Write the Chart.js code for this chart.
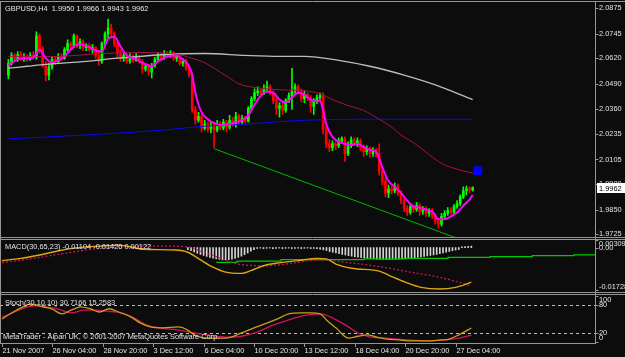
<!DOCTYPE html>
<html>
<head>
<meta charset="utf-8">
<script src="https://cdn.jsdelivr.net/npm/chart.js@4.4.0/dist/chart.umd.min.js"></script>
<style>
html, body { margin: 0; padding: 0; background: #0c0c0c; }
#wrap { position: relative; width: 625px; height: 357px; overflow: hidden; background: #0c0c0c; }
#wrap canvas { position: absolute; left: 0; top: 0; }
</style>
</head>
<body>
<div id="wrap">
  <canvas id="mainChart" width="625" height="357"></canvas>
  <canvas id="macdChart" width="625" height="357"></canvas>
  <canvas id="stochChart" width="625" height="357"></canvas>
</div>
<script>
// GBPUSD H4 candles, bar 0 = 21 Nov 2007 00:00
const opens = [2.0535,2.0595,2.0635,2.0615,2.0640,2.0620,2.0630,2.0615,2.0635,2.0625,
  2.0735,2.0670,2.0585,2.0535,2.0575,2.0615,2.0605,2.0630,2.0620,2.0665,
  2.0695,2.0685,2.0735,2.0685,2.0705,2.0675,2.0685,2.0665,2.0675,2.0635,
  2.0605,2.0695,2.0745,2.0775,2.0745,2.0695,2.0645,2.0620,2.0635,2.0605,
  2.0630,2.0610,2.0625,2.0605,2.0565,2.0580,2.0550,2.0585,2.0615,2.0635,
  2.0625,2.0645,2.0635,2.0650,2.0620,2.0630,2.0595,2.0605,2.0570,2.0535,
  2.0355,2.0305,2.0325,2.0265,2.0285,2.0260,2.0280,2.0255,2.0285,2.0265,
  2.0295,2.0270,2.0305,2.0285,2.0325,2.0295,2.0315,2.0300,2.0365,2.0415,
  2.0445,2.0455,2.0440,2.0465,2.0475,2.0445,2.0405,2.0365,2.0380,2.0355,
  2.0405,2.0430,2.0455,2.0475,2.0450,2.0415,2.0435,2.0420,2.0375,2.0405,
  2.0420,2.0430,2.0255,2.0185,2.0165,2.0185,2.0175,2.0200,2.0210,2.0135,
  2.0175,2.0205,2.0190,2.0200,2.0165,2.0145,2.0160,2.0135,2.0150,2.0135,
  2.0045,1.9995,1.9935,1.9955,1.9945,1.9970,1.9935,1.9895,1.9855,1.9835,
  1.9865,1.9850,1.9870,1.9840,1.9855,1.9830,1.9845,1.9820,1.9790,1.9775,
  1.9815,1.9830,1.9845,1.9835,1.9865,1.9880,1.9915,1.9945,1.9955,1.9950];
const highs = [2.0615,2.0650,2.0645,2.0655,2.0655,2.0645,2.0640,2.0650,2.0655,2.0755,
  2.0745,2.0680,2.0605,2.0595,2.0625,2.0630,2.0645,2.0645,2.0675,2.0715,
  2.0705,2.0745,2.0740,2.0720,2.0715,2.0695,2.0695,2.0690,2.0680,2.0655,
  2.0705,2.0755,2.0820,2.0795,2.0755,2.0705,2.0665,2.0650,2.0645,2.0645,
  2.0640,2.0645,2.0635,2.0615,2.0595,2.0590,2.0595,2.0625,2.0650,2.0645,
  2.0660,2.0655,2.0660,2.0655,2.0645,2.0635,2.0620,2.0615,2.0585,2.0545,
  2.0375,2.0345,2.0335,2.0305,2.0295,2.0300,2.0295,2.0305,2.0300,2.0310,
  2.0305,2.0330,2.0320,2.0345,2.0335,2.0330,2.0325,2.0375,2.0425,2.0465,
  2.0475,2.0465,2.0485,2.0505,2.0485,2.0455,2.0415,2.0395,2.0400,2.0415,
  2.0445,2.0570,2.0490,2.0485,2.0465,2.0455,2.0445,2.0430,2.0415,2.0435,
  2.0445,2.0445,2.0275,2.0205,2.0200,2.0195,2.0215,2.0220,2.0220,2.0195,
  2.0220,2.0215,2.0215,2.0210,2.0180,2.0175,2.0170,2.0165,2.0160,2.0185,
  2.0065,2.0015,1.9975,1.9970,1.9985,1.9980,1.9945,1.9910,1.9870,1.9880,
  1.9875,1.9885,1.9880,1.9865,1.9865,1.9855,1.9855,1.9830,1.9805,1.9830,
  1.9845,1.9860,1.9860,1.9875,1.9895,1.9925,1.9965,1.9970,1.9965,1.9966];
const lows = [2.0515,2.0585,2.0605,2.0605,2.0610,2.0605,2.0605,2.0610,2.0615,2.0615,
  2.0645,2.0575,2.0505,2.0510,2.0565,2.0590,2.0595,2.0610,2.0615,2.0655,
  2.0670,2.0675,2.0675,2.0670,2.0660,2.0660,2.0655,2.0645,2.0620,2.0585,
  2.0595,2.0680,2.0725,2.0730,2.0680,2.0620,2.0605,2.0605,2.0595,2.0595,
  2.0600,2.0605,2.0595,2.0545,2.0555,2.0535,2.0520,2.0575,2.0605,2.0615,
  2.0615,2.0625,2.0625,2.0610,2.0605,2.0585,2.0580,2.0560,2.0525,2.0345,
  2.0285,2.0295,2.0245,2.0255,2.0245,2.0240,2.0165,2.0245,2.0255,2.0255,
  2.0245,2.0260,2.0275,2.0270,2.0285,2.0285,2.0290,2.0295,2.0355,2.0405,
  2.0430,2.0430,2.0435,2.0450,2.0435,2.0390,2.0335,2.0320,2.0335,2.0345,
  2.0395,2.0360,2.0435,2.0440,2.0400,2.0395,2.0405,2.0345,2.0335,2.0390,
  2.0410,2.0235,2.0165,2.0145,2.0150,2.0155,2.0165,2.0185,2.0095,2.0125,
  2.0165,2.0175,2.0170,2.0150,2.0120,2.0130,2.0115,2.0120,2.0115,2.0025,
  1.9975,1.9915,1.9910,1.9930,1.9935,1.9920,1.9880,1.9840,1.9820,1.9825,
  1.9835,1.9840,1.9820,1.9825,1.9815,1.9815,1.9805,1.9775,1.9755,1.9765,
  1.9800,1.9820,1.9825,1.9825,1.9855,1.9870,1.9905,1.9925,1.9935,1.9943];
const closes = [2.0595,2.0635,2.0615,2.0640,2.0620,2.0630,2.0615,2.0635,2.0625,2.0735,
  2.0670,2.0585,2.0535,2.0575,2.0615,2.0605,2.0630,2.0620,2.0665,2.0695,
  2.0685,2.0735,2.0685,2.0705,2.0675,2.0685,2.0665,2.0675,2.0635,2.0605,
  2.0695,2.0745,2.0775,2.0745,2.0695,2.0645,2.0620,2.0635,2.0605,2.0630,
  2.0610,2.0625,2.0605,2.0565,2.0580,2.0550,2.0585,2.0615,2.0635,2.0625,
  2.0645,2.0635,2.0650,2.0620,2.0630,2.0595,2.0605,2.0570,2.0535,2.0355,
  2.0305,2.0325,2.0265,2.0285,2.0260,2.0280,2.0255,2.0285,2.0265,2.0295,
  2.0270,2.0305,2.0285,2.0325,2.0295,2.0315,2.0300,2.0365,2.0415,2.0445,
  2.0455,2.0440,2.0465,2.0475,2.0445,2.0405,2.0365,2.0380,2.0355,2.0405,
  2.0430,2.0455,2.0475,2.0450,2.0415,2.0435,2.0420,2.0375,2.0405,2.0420,
  2.0430,2.0255,2.0185,2.0165,2.0185,2.0175,2.0200,2.0210,2.0135,2.0175,
  2.0205,2.0190,2.0200,2.0165,2.0145,2.0160,2.0135,2.0150,2.0135,2.0045,
  1.9995,1.9935,1.9955,1.9945,1.9970,1.9935,1.9895,1.9855,1.9835,1.9865,
  1.9850,1.9870,1.9840,1.9855,1.9830,1.9845,1.9820,1.9790,1.9775,1.9815,
  1.9830,1.9845,1.9835,1.9865,1.9880,1.9915,1.9945,1.9955,1.9950,1.9962];

// moving averages: [bar, price]
const fastMa = [[0,2.0585],[3,2.0615],[6,2.0620],[8,2.0625],[10,2.0665],[12,2.0620],[14,2.0600],[16,2.0610],
  [18,2.0630],[20,2.0665],[22,2.0690],[25,2.0685],[28,2.0660],[30,2.0655],[32,2.0720],[34,2.0730],[36,2.0680],
  [38,2.0635],[41,2.0615],[44,2.0590],[46,2.0580],[48,2.0605],[51,2.0630],[54,2.0635],[56,2.0615],[58,2.0580],
  [59,2.0535],[60,2.0445],[61,2.0385],[62,2.0345],[64,2.0310],[66,2.0290],[69,2.0280],[72,2.0290],[75,2.0305],
  [77,2.0330],[79,2.0385],[81,2.0430],[83,2.0450],[85,2.0445],[87,2.0410],[89,2.0395],[91,2.0420],[93,2.0445],
  [95,2.0435],[97,2.0410],[99,2.0400],[100,2.0405],[101,2.0355],[102,2.0285],[104,2.0220],[106,2.0195],
  [108,2.0185],[110,2.0180],[112,2.0185],[114,2.0170],[116,2.0155],[118,2.0145],[119,2.0110],[120,2.0065],
  [122,1.9995],[124,1.9965],[126,1.9935],[128,1.9895],[130,1.9865],[132,1.9860],[134,1.9850],[136,1.9840],
  [138,1.9800],[140,1.9800],[142,1.9815],[144,1.9835],[146,1.9870],[148,1.9900],[149,1.9925]];
const midMa = [[0,2.0630],[15,2.0630],[30,2.0645],[42,2.0650],[52,2.0645],[56,2.0635],[59,2.0620],[62,2.0605],
  [65,2.0580],[68,2.0550],[71,2.0520],[74,2.0490],[80,2.0470],[87,2.0460],[95,2.0455],[100,2.0440],[104,2.0410],
  [109,2.0380],[114,2.0355],[119,2.0310],[123,2.0270],[126,2.0230],[131,2.0180],[135,2.0130],[139,2.0085],
  [143,2.0060],[149,2.0035]];
const slowMa = [[0,2.0570],[6,2.0580],[12,2.0590],[25,2.0605],[34,2.0620],[42,2.0630],[50,2.0640],[63,2.0645],
  [76,2.0635],[87,2.0630],[95,2.0630],[106,2.0610],[116,2.0580],[127,2.0535],[137,2.0485],[149,2.0410]];
const longMa = [[0,2.0210],[25,2.0230],[50,2.0255],[63,2.0275],[76,2.0285],[95,2.0305],[119,2.0310],[149,2.0310]];
const trendLine = [[66,2.0160],[145,1.9698]];
const signalMark = [[150.6,2.0048]];

// MACD(30,65,23) panel
const macdLine = [[0,-0.0053],[6,-0.0044],[12,-0.0030],[18,-0.0013],[25,0.0001],[31,0.0006],[37,0.0010],
  [45,-0.0007],[55,-0.0010],[59,-0.0019],[62.5,-0.0046],[67,-0.0080],[71,-0.0100],[76,-0.0105],[79,-0.0094],
  [83,-0.0074],[87,-0.0064],[94,-0.0053],[100,-0.0044],[103,-0.0046],[106,-0.0067],[111,-0.0084],[120,-0.0097],
  [123,-0.0114],[128,-0.0141],[133,-0.0162],[139,-0.0169],[144,-0.0162],[149,-0.0141]];
const macdSignal = [[0,-0.0061],[10,-0.0044],[21,-0.0021],[31,-0.0003],[40,0.0004],[52,0.0006],[59,0.0002],
  [63,-0.0014],[70,-0.0046],[75,-0.0067],[84,-0.0074],[92,-0.0064],[101,-0.0050],[109,-0.0060],[121,-0.0080],
  [130,-0.0101],[139,-0.0121],[149,-0.0155]];
const histFirstBar = 59;
const macdHist = [-0.0008,-0.0013,-0.0018,-0.0023,-0.0028,-0.0032,-0.0036,-0.0040,-0.0043,-0.0046,-0.0048,
  -0.0050,-0.0050,-0.0049,-0.0047,-0.0044,-0.0040,-0.0035,-0.0029,-0.0022,-0.0015,-0.0008,
  -0.0003,-0.0002,-0.0004,-0.0003,-0.0002,-0.0004,-0.0003,-0.0002,-0.0004,-0.0003,-0.0002,-0.0004,
  -0.0003,-0.0002,-0.0004,-0.0003,-0.0002,-0.0004,-0.0003,-0.0004,-0.0006,-0.0009,-0.0012,
  -0.0016,-0.0019,-0.0022,-0.0025,-0.0028,-0.0030,-0.0033,-0.0035,-0.0037,-0.0039,-0.0041,-0.0042,-0.0044,
  -0.0045,-0.0046,-0.0047,-0.0048,-0.0048,-0.0049,-0.0049,-0.0048,-0.0048,-0.0047,-0.0046,-0.0045,-0.0044,
  -0.0043,-0.0041,-0.0040,-0.0038,-0.0036,-0.0034,-0.0032,-0.0030,-0.0028,-0.0025,-0.0022,-0.0019,-0.0016,
  -0.0013,-0.0010,-0.0008,
  0.0003,0.0004,0.0005,0.0006];
const macdLevel = [[68,-0.0060],[74.6,-0.0055],[88.6,-0.0049],[114.9,-0.0046],[128.3,-0.0044],[141.6,-0.0040],
  [154.9,-0.0037],[168.3,-0.0033],[181.6,-0.0030],[190,-0.0030]];

// Stoch(30,10,10) panel
const stochMain = [[0,50],[3,63],[6,74],[9,82],[11,80],[13,76],[16,71],[19,61],[22,69],[25,76],[28,72],[31,65],
  [34,72],[37,65],[41,54],[44,41],[47,33],[51,31],[56,33],[59,26],[61,16],[65,9],[71,9],[76,20],[80,31],[84,41],
  [88,52],[91,61],[95,63],[98,63],[101,61],[103,48],[106,31],[110,9],[113,13],[116,16],[119,11],[122,7],[126,5],
  [130,3],[135,3],[139,5],[142,7],[145,16],[149,30.7166]];
const stochSignal = [[0,54],[4,65],[8,76],[11,78],[14,76],[18,71],[22,63],[26,69],[30,69],[33,67],[38,63],[42,52],
  [46,37],[50,31],[56,26],[61,20],[65,16],[71,11],[76,13],[81,22],[86,37],[91,48],[95,56],[101,61],[105,52],
  [110,33],[113,20],[117,11],[122,9],[129,5],[135,3],[141,5],[145,9],[149,15.2583]];
const stochLevels = [80, 20];

// axis labels
const priceTicks = [2.0875, 2.0745, 2.0620, 2.0490, 2.0360, 2.0235, 2.0105, 1.9980, 1.9850, 1.9725];
const macdTicks = [0.00309, 0, -0.01728];
const macdTickText = ['0.00309', '0.00', '-0.01728'];
const stochTicks = [100, 80, 20, 0];
const timeBars = [0, 16, 32, 48, 64, 80, 96, 112, 128, 144];
const timeLabels = ['21 Nov 2007', '26 Nov 04:00', '28 Nov 20:00', '3 Dec 12:00', '6 Dec 04:00',
  '10 Dec 20:00', '13 Dec 12:00', '18 Dec 04:00', '20 Dec 20:00', '27 Dec 04:00'];

// ---------- styling / helpers ----------
const FONT = '7.4px "Liberation Sans", Arial, sans-serif';
const TEXT = '#e4e4e4';
const FRAME = '#969696';
const X_MIN = -0.635, X_MAX = 188.25;

const pts = arr => arr.map(([x, y]) => ({ x, y }));

function drawText(ctx, str, x, y, color, align) {
  ctx.save();
  ctx.font = FONT;
  ctx.fillStyle = color || TEXT;
  ctx.textAlign = align || 'left';
  ctx.textBaseline = 'middle';
  ctx.fillText(str, x, y);
  ctx.restore();
}

function line(ctx, x1, y1, x2, y2, color, dash) {
  ctx.save();
  ctx.strokeStyle = color || FRAME;
  ctx.lineWidth = 1;
  if (dash) ctx.setLineDash(dash);
  ctx.beginPath();
  ctx.moveTo(x1, y1);
  ctx.lineTo(x2, y2);
  ctx.stroke();
  ctx.restore();
}

// right-side axis tick with label
function axisLabel(ctx, str, py, ly) {
  const y = Math.round(py) + 0.5;
  line(ctx, 595.5, y, 598.5, y);
  drawText(ctx, str, 599, ly === undefined ? py : ly);
}

function baseOptions(padding, yMin, yMax) {
  return {
    responsive: false,
    animation: false,
    devicePixelRatio: 1,
    events: [],
    layout: { padding: padding },
    plugins: { legend: { display: false }, tooltip: { enabled: false } },
    scales: {
      x: { type: 'linear', min: X_MIN, max: X_MAX, display: false, offset: false },
      y: { display: false, min: yMin, max: yMax }
    }
  };
}

function lineSet(data, color, width, extra) {
  return Object.assign({
    type: 'line', data: pts(data), borderColor: color, borderWidth: width,
    pointRadius: 0, fill: false, tension: 0.4, cubicInterpolationMode: 'monotone'
  }, extra || {});
}

// ---------- main price chart ----------
const candleColors = closes.map((c, i) => c >= opens[i] ? '#00ff00' : '#ff0000');

const mainDecor = {
  id: 'mainDecor',
  afterDraw(chart) {
    const ctx = chart.ctx;
    const ys = chart.scales.y;
    const last = closes.length - 1;
    drawText(ctx, 'GBPUSD,H4  ' + opens[last].toFixed(4) + ' ' + highs[last].toFixed(4) + ' ' +
      lows[last].toFixed(4) + ' ' + closes[last].toFixed(4), 5, 8.5);
    priceTicks.forEach(v => axisLabel(ctx, v.toFixed(4), ys.getPixelForValue(v)));
    // current price tag
    const py = Math.round(ys.getPixelForValue(closes[last]));
    ctx.fillStyle = '#ffffff';
    ctx.fillRect(597, py - 5, 28, 10);
    drawText(ctx, closes[last].toFixed(4), 599, py + 0.5, '#000000');
  }
};

new Chart(document.getElementById('mainChart'), {
  type: 'bar',
  data: {
    datasets: [
      lineSet(fastMa, '#ff00ff', 2, { order: 1 }),
      lineSet(trendLine, '#00b400', 1, { order: 2, tension: 0 }),
      lineSet(midMa, '#a8104a', 1, { order: 3 }),
      lineSet(slowMa, '#bcbcbc', 1.3, { order: 4 }),
      lineSet(longMa, '#0a0af0', 1, { order: 5 }),
      { type: 'line', data: pts(signalMark), showLine: false, pointStyle: 'rect', pointRadius: 6.4,
        pointBackgroundColor: '#0000ff', pointBorderWidth: 0, order: 0 },
      { type: 'bar', data: closes.map((c, i) => ({ x: i, y: [opens[i], c] })),
        backgroundColor: candleColors, barThickness: 2, minBarLength: 1, grouped: false, order: 8 },
      { type: 'bar', data: closes.map((c, i) => ({ x: i, y: [lows[i], highs[i]] })),
        backgroundColor: candleColors, barThickness: 1, grouped: false, order: 9 }
    ]
  },
  options: baseOptions({ left: 0, right: 30, top: 2, bottom: 120 }, 1.9710, 2.0885),
  plugins: [mainDecor]
});

// ---------- MACD panel ----------
const macdDecor = {
  id: 'macdDecor',
  afterDraw(chart) {
    const ctx = chart.ctx;
    const ys = chart.scales.y;
    const area = chart.chartArea;
    macdTicks.forEach((v, i) => {
      const py = ys.getPixelForValue(v);
      const ly = Math.max(area.top + 3.5, Math.min(area.bottom - 3.5, py));
      axisLabel(ctx, macdTickText[i], py, ly);
    });
    drawText(ctx, 'MACD(30,65,23) -0.01104 -0.01426 0.00122', 5, 246.5);
  }
};

new Chart(document.getElementById('macdChart'), {
  type: 'bar',
  data: {
    datasets: [
      lineSet(macdLine, '#e0a810', 1.4, { order: 1 }),
      lineSet(macdSignal, '#d0105a', 1.3, { order: 2, borderDash: [2, 2] }),
      lineSet(macdLevel, '#00c800', 1.3, { order: 3, tension: 0, stepped: true }),
      { type: 'bar', data: macdHist.map((v, i) => ({ x: histFirstBar + i, y: v })),
        backgroundColor: '#d4d4d4', barThickness: 1, grouped: false, order: 5 }
    ]
  },
  options: baseOptions({ left: 0, right: 30, top: 240, bottom: 67 }, -0.01728, 0.00309),
  plugins: [macdDecor]
});

// ---------- Stochastic panel + frame + time axis ----------
const stochDecor = {
  id: 'stochDecor',
  beforeDatasetsDraw(chart) {
    const ys = chart.scales.y;
    stochLevels.forEach(v => {
      const y = Math.round(ys.getPixelForValue(v)) + 0.5;
      line(chart.ctx, 0, y, 595, y, '#bdbdbd', [3, 3]);
    });
  },
  afterDraw(chart) {
    const ctx = chart.ctx;
    const ys = chart.scales.y;
    const xs = chart.scales.x;
    const area = chart.chartArea;
    stochTicks.forEach(v => {
      const py = ys.getPixelForValue(v);
      const ly = Math.max(area.top + 4, Math.min(area.bottom - 4, py));
      axisLabel(ctx, String(v), py, ly);
    });
    drawText(ctx, 'Stoch(30,10,10) ' + stochMain[stochMain.length - 1][1].toFixed(4) + ' ' +
      stochSignal[stochSignal.length - 1][1].toFixed(4), 5, 302.5);
    drawText(ctx, 'MetaTrader - Alpari UK, \u00a9 2001-2007 MetaQuotes Software Corp.', 3, 337);

    // window frames
    [1.5, 237.5, 239.5, 292.5, 294.5].forEach(y => line(ctx, 0, y, 625, y));
    line(ctx, 0, 343.5, 596, 343.5);
    line(ctx, 0.5, 1.5, 0.5, 343.5);
    line(ctx, 595.5, 1.5, 595.5, 343.5);

    // time axis
    timeBars.forEach((b, i) => {
      const x = Math.round(xs.getPixelForValue(b)) + 0.5;
      line(ctx, x, 343.5, x, 347);
      drawText(ctx, timeLabels[i], x, 351);
    });
  }
};

new Chart(document.getElementById('stochChart'), {
  type: 'line',
  data: {
    datasets: [
      lineSet(stochMain, '#c8a014', 1.3, { order: 1 }),
      lineSet(stochSignal, '#d0145a', 1.3, { order: 2 })
    ]
  },
  options: baseOptions({ left: 0, right: 30, top: 295.7, bottom: 14.7 }, 0, 100),
  plugins: [stochDecor]
});
</script>
</body>
</html>
